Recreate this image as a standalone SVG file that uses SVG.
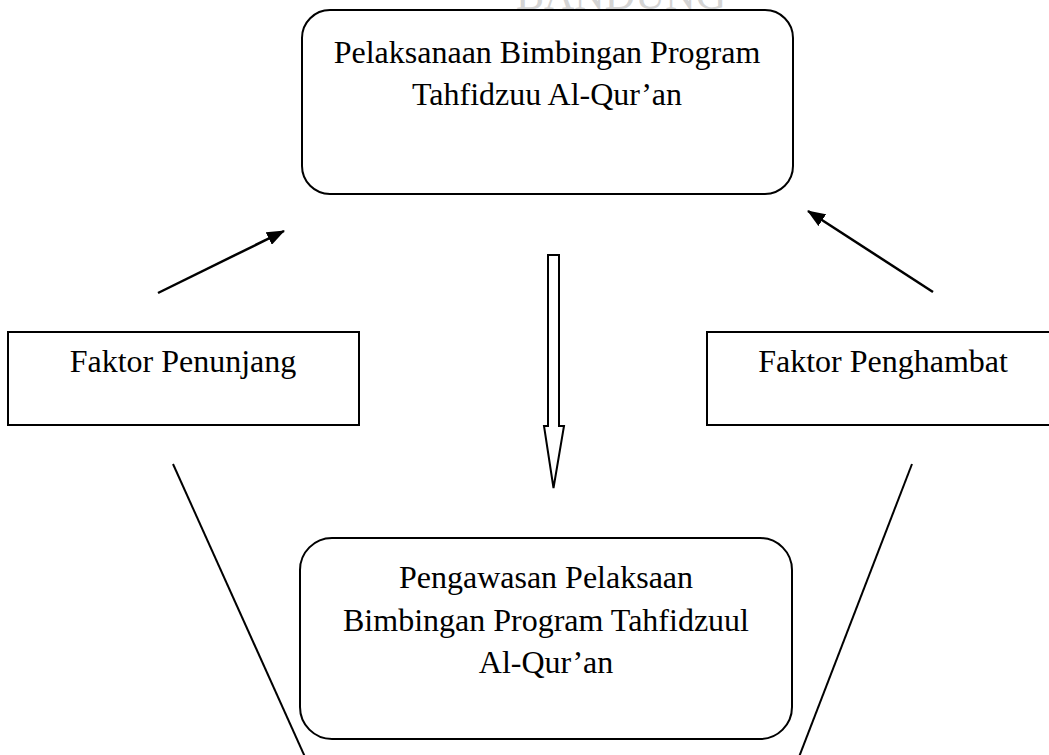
<svg xmlns="http://www.w3.org/2000/svg" width="1049" height="755" viewBox="0 0 1049 755">
  <style>
    .box { fill: #ffffff; stroke: #000000; stroke-width: 2; }
    .lbl { font-family: "Liberation Serif", "Times New Roman", serif; font-size: 32px; fill: #000000; text-anchor: middle; }
    .wm { font-family: "Liberation Serif", "Times New Roman", serif; font-size: 42px; fill: #d4d4d4; text-anchor: middle; }
    .conn { fill: none; stroke: #000000; stroke-width: 2.5; }
    .plain { fill: none; stroke: #000000; stroke-width: 2; }
    .hollow { fill: #ffffff; stroke: #000000; stroke-width: 2; stroke-linejoin: miter; }
  </style>
  <defs>
    <marker id="head" markerUnits="userSpaceOnUse" markerWidth="18" markerHeight="14" refX="17" refY="7" orient="auto">
      <path d="M0,0 L18,7 L0,14 z" fill="#000000"/>
    </marker>
  </defs>
  <rect width="1049" height="755" fill="#ffffff"/>
  <text class="wm" x="621" y="9">BANDUNG</text>

  <g id="node-pelaksanaan">
    <rect class="box" x="302" y="10" width="491" height="184" rx="28" ry="28"/>
    <text class="lbl" x="547" y="63">Pelaksanaan Bimbingan Program</text>
    <text class="lbl" x="547" y="105">Tahfidzuu Al-Qur’an</text>
  </g>

  <g id="node-penunjang">
    <rect class="box" x="8" y="332" width="351" height="93"/>
    <text class="lbl" x="183" y="372">Faktor Penunjang</text>
  </g>

  <g id="node-penghambat">
    <rect class="box" x="707" y="332" width="360" height="93"/>
    <text class="lbl" x="883" y="372">Faktor Penghambat</text>
  </g>

  <g id="node-pengawasan">
    <rect class="box" x="300" y="538" width="492" height="201" rx="32" ry="32"/>
    <text class="lbl" x="546" y="588">Pengawasan Pelaksaan</text>
    <text class="lbl" x="546" y="631">Bimbingan Program Tahfidzuul</text>
    <text class="lbl" x="546" y="673">Al-Qur’an</text>
  </g>

  <g id="connectors">
    <line class="conn" x1="158" y1="293" x2="284" y2="231" marker-end="url(#head)"/>
    <line class="conn" x1="933" y1="292" x2="808" y2="211" marker-end="url(#head)"/>
    <polygon class="hollow" points="548,255 559,255 559,426 564,426 553.5,488 544,426 548,426"/>
    <line class="plain" x1="173" y1="464" x2="305" y2="757"/>
    <line class="plain" x1="912" y1="464" x2="799" y2="757"/>
  </g>
</svg>
